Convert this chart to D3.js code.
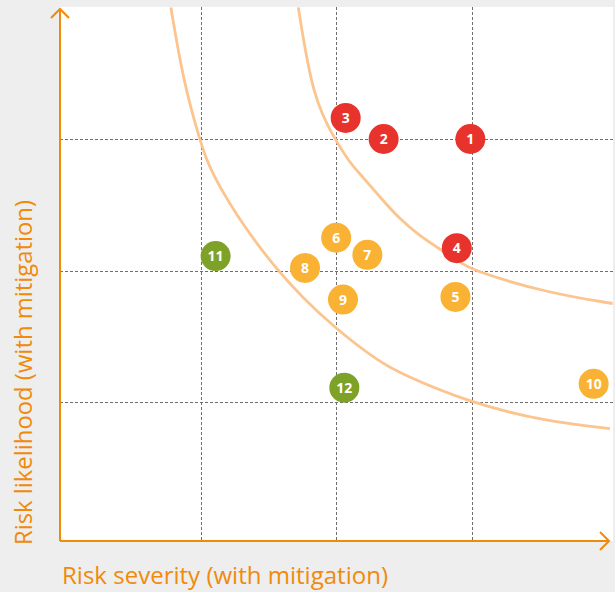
<!DOCTYPE html>
<html>
<head>
<meta charset="utf-8">
<script src="https://cdn.jsdelivr.net/npm/d3@7"></script>
<style>
	html, body { margin: 0; padding: 0; background: #eeeeee; }
	svg { display: block; }
</style>
</head>
<body>
<svg id="chart"></svg>
<script>
// risks (severity / likelihood on a 0..4 scale)
const riskIds = [1, 2, 3, 4, 5, 6, 7, 8, 9, 10, 11, 12];
const severity = [2.99, 2.35, 2.07, 2.89, 2.88, 2.00, 2.23, 1.77, 2.05, 3.90, 1.11, 2.06];
const likelihood = [3.00, 3.00, 3.16, 2.17, 1.80, 2.25, 2.12, 2.02, 1.78, 1.14, 2.11, 1.11];
const riskLevel = ['high', 'high', 'high', 'high', 'medium', 'medium', 'medium', 'medium', 'medium', 'medium', 'low', 'low'];

// iso-risk curves
const innerCurveX = [1.72, 1.83, 1.99, 2.10, 2.18, 2.33, 2.47, 2.62, 2.77, 2.92, 3.01, 3.56, 4.04];
const innerCurveY = [4.00, 3.30, 3.00, 2.82, 2.73, 2.55, 2.39, 2.26, 2.16, 2.06, 2.00, 1.83, 1.75];
const outerCurveX = [0.78, 0.87, 0.99, 1.09, 1.54, 2.01, 2.33, 2.47, 2.97, 3.56, 4.02];
const outerCurveY = [4.00, 3.45, 3.00, 2.69, 2.00, 1.54, 1.30, 1.22, 1.00, 0.85, 0.80];

const gridTicks = [1, 2, 3];
const xTitle = 'Risk severity (with mitigation)';
const yTitle = 'Risk likelihood (with mitigation)';

const width = 615, height = 592;
const plotLeft = 60, plotRight = 613, plotTop = 7, plotBottom = 541;
const orange = '#f08a0a';
const colours = { high: '#e8322c', medium: '#f9b233', low: '#7ea227' };

const xScale = d3.scaleLinear().domain([0, 4]).range([65.2, 607.2]);
const yScale = d3.scaleLinear().domain([0, 4]).range([533.8, 7.4]);

const svg = d3.select('#chart')
	.attr('width', width)
	.attr('height', height);

svg.append('defs').append('clipPath')
	.attr('id', 'plot-clip')
	.append('rect')
	.attr('x', plotLeft).attr('y', plotTop)
	.attr('width', plotRight - plotLeft).attr('height', plotBottom - plotTop);

// white plot area
svg.append('rect')
	.attr('x', plotLeft).attr('y', plotTop)
	.attr('width', plotRight - plotLeft).attr('height', plotBottom - plotTop)
	.attr('fill', '#ffffff');

// dashed grid
const grid = svg.append('g').attr('class', 'grid')
	.attr('stroke', '#6e6e6e')
	.attr('stroke-width', 1)
	.attr('stroke-dasharray', '3,2');

grid.selectAll('.vgrid')
	.data(gridTicks)
	.enter()
	.append('line')
	.attr('x1', d => Math.round(xScale(d)) + 0.5)
	.attr('x2', d => Math.round(xScale(d)) + 0.5)
	.attr('y1', plotTop)
	.attr('y2', plotBottom);

grid.selectAll('.hgrid')
	.data(gridTicks)
	.enter()
	.append('line')
	.attr('y1', d => Math.round(yScale(d)) + 0.5)
	.attr('y2', d => Math.round(yScale(d)) + 0.5)
	.attr('x1', plotLeft)
	.attr('x2', plotRight);

// iso-risk curves (smoothed through the points)
const curveLine = d3.line()
	.x(d => xScale(d[0]))
	.y(d => yScale(d[1]))
	.curve(d3.curveBasis);

const curves = [d3.zip(innerCurveX, innerCurveY), d3.zip(outerCurveX, outerCurveY)];

svg.append('g')
	.attr('clip-path', 'url(#plot-clip)')
	.selectAll('path')
	.data(curves)
	.enter()
	.append('path')
	.attr('d', curveLine)
	.attr('fill', 'none')
	.attr('stroke', '#fcc48e')
	.attr('stroke-width', 2.8);

// axes with open arrow heads
const axes = svg.append('g')
	.attr('fill', 'none')
	.attr('stroke', orange)
	.attr('stroke-width', 2);

axes.append('path')
	.attr('d', `M${plotLeft},${plotBottom} V${plotTop + 2} M${plotLeft - 9},${plotTop + 11} L${plotLeft},${plotTop + 2} L${plotLeft + 9},${plotTop + 11}`);

axes.append('path')
	.attr('d', `M${plotLeft},${plotBottom} H${plotRight - 4} M${plotRight - 13},${plotBottom - 9} L${plotRight - 4},${plotBottom} L${plotRight - 13},${plotBottom + 9}`);

// risk bubbles
const risks = riskIds.map((id, i) => ({
	id: id,
	x: severity[i],
	y: likelihood[i],
	level: riskLevel[i]
}));

const bubble = svg.selectAll('.risk')
	.data(risks)
	.enter()
	.append('g')
	.attr('class', 'risk')
	.attr('transform', d => `translate(${xScale(d.x)},${yScale(d.y)})`);

bubble.append('circle')
	.attr('r', 15)
	.attr('fill', d => colours[d.level]);

bubble.append('text')
	.attr('text-anchor', 'middle')
	.attr('dy', '0.36em')
	.attr('fill', '#ffffff')
	.style('font-family', '"Open Sans", sans-serif')
	.style('font-weight', 700)
	.style('font-size', '14px')
	.text(d => d.id);

// axis titles
svg.append('text')
	.attr('x', 62)
	.attr('y', 584)
	.attr('fill', orange)
	.attr('textLength', 326)
	.attr('lengthAdjust', 'spacingAndGlyphs')
	.style('font-family', '"Open Sans", sans-serif')
	.style('font-size', '23px')
	.text(xTitle);

svg.append('text')
	.attr('transform', 'translate(32,545) rotate(-90)')
	.attr('fill', orange)
	.attr('textLength', 345)
	.attr('lengthAdjust', 'spacingAndGlyphs')
	.style('font-family', '"Open Sans", sans-serif')
	.style('font-size', '23px')
	.text(yTitle);
</script>
</body>
</html>
